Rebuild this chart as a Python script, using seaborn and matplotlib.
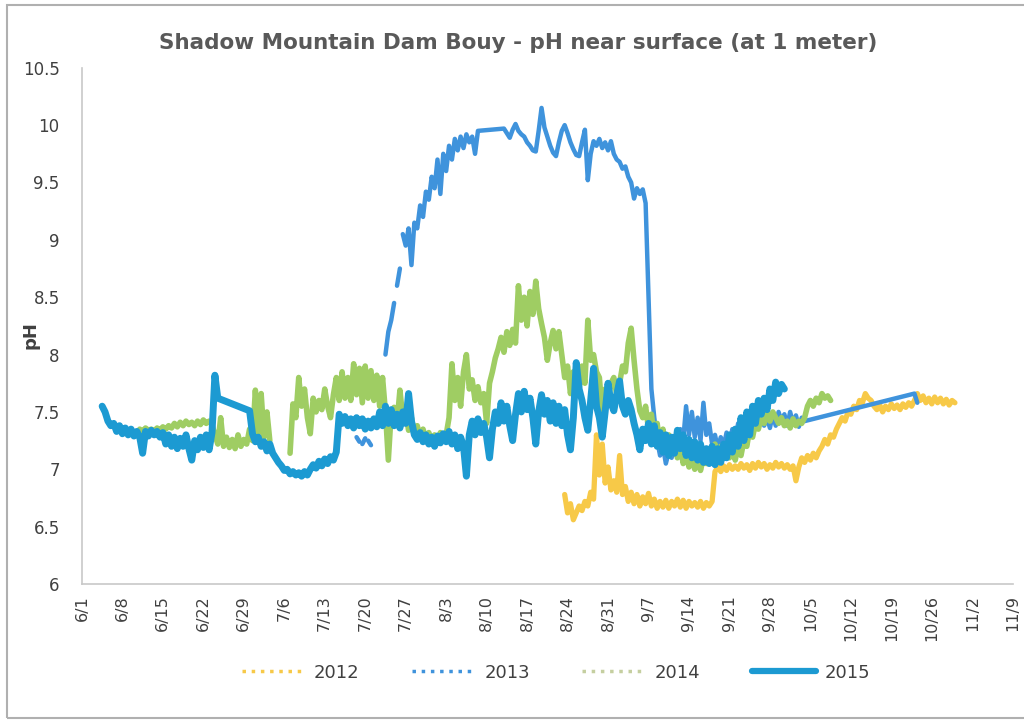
import pandas as pd
import matplotlib
matplotlib.use('Agg')
import matplotlib.pyplot as plt
import seaborn as sns
from matplotlib.lines import Line2D
from matplotlib.patches import Rectangle

# Readings every half day, x = days after 6/1 (all years on the same calendar axis)
STEP = 0.5

tick_days = [0, 7, 14, 21, 28, 35, 42, 49, 56, 63, 70, 77, 84, 91, 98, 105,
             112, 119, 126, 133, 140, 147, 154, 161]
tick_labels = ['6/1', '6/8', '6/15', '6/22', '6/29', '7/6', '7/13', '7/20', '7/27',
               '8/3', '8/10', '8/17', '8/24', '8/31', '9/7', '9/14', '9/21', '9/28',
               '10/5', '10/12', '10/19', '10/26', '11/2', '11/9']

# 2012 - starts 8/24
ph2012 = [6.78, 6.62, 6.70, 6.56, 6.62, 6.68, 6.64, 6.72, 6.68, 6.80,
          6.74, 7.30, 6.95, 7.22, 6.88, 7.02, 6.82, 6.90, 6.80, 7.12,
          6.78, 6.85, 6.72, 6.80, 6.70, 6.78, 6.68, 6.76, 6.70, 6.79,
          6.68, 6.74, 6.66, 6.72, 6.67, 6.73, 6.66, 6.72, 6.68, 6.74,
          6.67, 6.73, 6.66, 6.72, 6.68, 6.71, 6.67, 6.72, 6.66, 6.71,
          6.68, 6.72, 6.98, 7.02, 6.98, 7.03, 6.99, 7.04, 7.00, 7.03,
          7.00, 7.05, 7.01, 7.04, 6.99, 7.05, 7.01, 7.06, 7.02, 7.05,
          7.00, 7.04, 7.01, 7.06, 7.02, 7.05, 7.01, 7.04, 7.00, 7.03,
          6.90, 7.02, 7.10, 7.06, 7.12, 7.08, 7.14, 7.10, 7.16, 7.20,
          7.26, 7.22, 7.30, 7.28, 7.35, 7.40, 7.45, 7.42, 7.50, 7.48,
          7.55, 7.52, 7.60, 7.58, 7.66, 7.62, 7.60, 7.55, 7.52, 7.56,
          7.50, 7.55, 7.52, 7.57, 7.53, 7.56, 7.52, 7.57, 7.54, 7.58,
          7.55, 7.60, 7.66, 7.60, 7.64, 7.58, 7.62, 7.57, 7.63, 7.58,
          7.62, 7.57, 7.61, 7.56, 7.60, 7.58]

# 2013 - a few scattered readings, then the climb to pH 10
ph2013_dot1 = [7.28, 7.24]
ph2013_dot2 = [7.22, 7.27]
ph2013_dot3 = [7.25, 7.21]
ph2013_rise1 = [7.75, 7.80]
ph2013_rise2 = [8.00, 8.20, 8.30, 8.45]
ph2013_rise3 = [8.60, 8.75]
ph2013_a = [9.05, 8.95, 9.10, 8.78, 9.15, 9.10, 9.30, 9.20, 9.42, 9.35,
            9.55, 9.45, 9.70, 9.40, 9.75, 9.60, 9.82, 9.70, 9.88, 9.78,
            9.90, 9.80, 9.92, 9.85, 9.90, 9.75, 9.95]
ph2013_b = [9.97, 9.93, 9.89, 9.96, 10.01, 9.95, 9.92, 9.90, 9.85, 9.82,
            9.78, 9.77, 9.95, 10.15, 9.98, 9.90, 9.82, 9.76, 9.73, 9.85,
            9.95, 10.00, 9.93, 9.85, 9.79, 9.74, 9.73, 9.85, 9.96, 9.52,
            9.75, 9.86, 9.82, 9.88, 9.80, 9.85, 9.78, 9.86, 9.75, 9.70,
            9.68, 9.62, 9.64, 9.55, 9.50, 9.36, 9.45, 9.40, 9.44, 9.32,
            8.50, 7.70, 7.45, 7.25, 7.12, 7.20, 7.05, 7.15, 7.10, 7.25,
            7.20, 7.35, 7.25, 7.55, 7.30, 7.50, 7.28, 7.45, 7.25, 7.58,
            7.30, 7.40, 7.22, 7.30, 7.18, 7.28, 7.20, 7.32, 7.22, 7.35,
            7.25, 7.40, 7.30, 7.45, 7.35, 7.50, 7.38, 7.48, 7.40, 7.50,
            7.38, 7.45, 7.36, 7.48, 7.38, 7.50, 7.42, 7.48, 7.38, 7.50,
            7.40, 7.47, 7.37, 7.45, 7.42]
ph2013_c = [7.66, 7.58]

# 2014
ph2014_a = [7.35, 7.33, 7.36, 7.34, 7.35, 7.33, 7.36, 7.34, 7.37, 7.35,
            7.38, 7.36, 7.40, 7.37, 7.41, 7.38, 7.42, 7.39, 7.41, 7.38,
            7.42, 7.39, 7.43, 7.40, 7.42, 7.39,
            7.30, 7.22, 7.45, 7.20, 7.28, 7.19, 7.26, 7.18, 7.30, 7.20,
            7.26, 7.22, 7.35, 7.25, 7.69, 7.31, 7.66, 7.28, 7.50, 7.25]
ph2014_b = [7.14, 7.57, 7.45, 7.80, 7.55, 7.70, 7.45, 7.31, 7.62, 7.50,
            7.60, 7.52, 7.70, 7.55, 7.45, 7.65, 7.80, 7.60, 7.85, 7.62,
            7.80, 7.60, 7.92, 7.65, 7.88, 7.58, 7.90, 7.62, 7.86, 7.60,
            7.82, 7.55, 7.80, 7.50, 7.08, 7.50, 7.54, 7.40, 7.69, 7.45,
            7.50, 7.34, 7.45, 7.30, 7.38, 7.28, 7.35, 7.26, 7.32, 7.25,
            7.30, 7.24, 7.32, 7.26, 7.30, 7.45, 7.92, 7.60, 7.80, 7.55,
            7.85, 8.00, 7.70, 7.78, 7.60, 7.72, 7.58, 7.66, 7.40, 7.75,
            7.85, 7.97, 8.05, 8.15, 8.02, 8.20, 8.08, 8.22, 8.10, 8.60,
            8.30, 8.50, 8.25, 8.55, 8.35, 8.64, 8.40, 8.27, 8.15, 7.95,
            8.10, 8.21, 8.05, 8.20, 8.00, 7.80, 7.90, 7.66, 7.85, 7.80,
            7.70, 7.90, 7.75, 8.30, 7.95, 8.00, 7.85, 7.80, 7.49, 7.70,
            7.60, 7.75, 7.80, 7.65, 7.75, 7.90, 7.85, 8.10, 8.23, 7.95,
            7.70, 7.51, 7.45, 7.55, 7.35, 7.48, 7.28, 7.40, 7.20, 7.35,
            7.18, 7.30, 7.14, 7.25, 7.10, 7.20, 7.05, 7.15, 7.02, 7.10,
            7.00, 7.08, 6.99, 7.10, 7.05, 7.15, 7.08, 7.22, 7.10, 7.20,
            7.12, 7.22, 7.10, 7.18, 7.08, 7.20, 7.12, 7.25, 7.20, 7.35,
            7.28, 7.40, 7.35, 7.45, 7.40, 7.50, 7.42, 7.50, 7.45, 7.40,
            7.45, 7.38, 7.42, 7.36, 7.44, 7.38, 7.42, 7.40, 7.45, 7.55,
            7.60, 7.55, 7.62, 7.58, 7.66, 7.62, 7.64, 7.60]

# 2015
ph2015_a = [7.55, 7.50, 7.42, 7.38, 7.40, 7.33, 7.38, 7.31, 7.36, 7.30,
            7.35, 7.29, 7.33, 7.28, 7.14, 7.33, 7.29, 7.34, 7.30, 7.33,
            7.28, 7.32, 7.22, 7.30, 7.20, 7.28, 7.18, 7.27, 7.20, 7.30,
            7.18, 7.08, 7.25, 7.17, 7.28, 7.19, 7.30, 7.17, 7.32, 7.82,
            7.62]
ph2015_b = [7.51, 7.31, 7.24, 7.28, 7.20, 7.24, 7.16, 7.22, 7.14, 7.10,
            7.06, 7.03, 6.99, 7.00, 6.96, 6.98, 6.95, 6.97, 6.94, 6.98,
            6.95, 7.00, 7.04, 7.01, 7.07, 7.03, 7.09, 7.05, 7.11, 7.08,
            7.15, 7.48, 7.40, 7.46, 7.38, 7.44, 7.36, 7.45, 7.38, 7.44,
            7.35, 7.42, 7.36, 7.44, 7.37, 7.50, 7.38, 7.55, 7.40, 7.52,
            7.38, 7.48, 7.36, 7.50, 7.40, 7.66, 7.42, 7.30, 7.26, 7.32,
            7.24, 7.30, 7.22, 7.28, 7.20, 7.29, 7.23, 7.31, 7.24, 7.33,
            7.22, 7.30, 7.18, 7.28, 7.20, 6.94, 7.30, 7.42, 7.30, 7.44,
            7.32, 7.40, 7.28, 7.10, 7.35, 7.50, 7.40, 7.58, 7.42, 7.55,
            7.38, 7.25, 7.48, 7.66, 7.50, 7.68, 7.52, 7.62, 7.45, 7.22,
            7.50, 7.65, 7.48, 7.60, 7.42, 7.58, 7.40, 7.55, 7.38, 7.52,
            7.30, 7.17, 7.45, 7.93, 7.70, 7.60, 7.45, 7.34, 7.60, 7.88,
            7.55, 7.45, 7.28, 7.50, 7.75, 7.58, 7.51, 7.65, 7.77, 7.55,
            7.48, 7.60, 7.52, 7.40, 7.30, 7.17, 7.35, 7.25, 7.40, 7.22,
            7.38, 7.20, 7.32, 7.15, 7.30, 7.12, 7.28, 7.14, 7.34, 7.18,
            7.30, 7.12, 7.26, 7.10, 7.24, 7.08, 7.22, 7.06, 7.18, 7.05,
            7.20, 7.04, 7.18, 7.06, 7.22, 7.10, 7.30, 7.15, 7.35, 7.20,
            7.45, 7.25, 7.50, 7.30, 7.55, 7.40, 7.60, 7.48, 7.62, 7.52,
            7.70, 7.60, 7.76, 7.66, 7.74, 7.70]

# (year, line id, first day, values) - pieces sharing a line id are joined
# by a straight line, as Excel does across missing days
segments = [
    ('2012', 0, 83.5, ph2012),
    ('2013', 0, 47.5, ph2013_dot1),
    ('2013', 1, 48.5, ph2013_dot2),
    ('2013', 2, 49.5, ph2013_dot3),
    ('2013', 3, 51.5, ph2013_rise1),
    ('2013', 4, 52.5, ph2013_rise2),
    ('2013', 5, 54.5, ph2013_rise3),
    ('2013', 6, 55.5, ph2013_a),
    ('2013', 6, 73.0, ph2013_b),
    ('2013', 6, 144.0, ph2013_c),
    ('2014', 0, 10.0, ph2014_a),
    ('2014', 1, 36.0, ph2014_b),
    ('2015', 0, 3.5, ph2015_a),
    ('2015', 0, 29.0, ph2015_b),
]

rows = []
for year, line, start, vals in segments:
    for i, v in enumerate(vals):
        rows.append({'year': year, 'line': line, 'day': start + i * STEP, 'pH': v})
df = pd.DataFrame(rows)

colors = {'2012': '#F7C948', '2013': '#3F93DC', '2014': '#9FCD63', '2015': '#1C9AD2'}
widths = {'2012': 3.8, '2013': 3.2, '2014': 4.0, '2015': 5.0}

sns.set_style('white')
plt.rcParams['font.family'] = ['DejaVu Sans']

fig = plt.figure(figsize=(10.24, 7.21), dpi=100)
ax = fig.add_axes([0.080, 0.190, 0.909, 0.716])

for year in ['2012', '2013', '2014', '2015']:
    sub = df[df['year'] == year]
    sns.lineplot(data=sub, x='day', y='pH', units='line', estimator=None, sort=False,
                 color=colors[year], linewidth=widths[year], ax=ax, legend=False)

ax.set_xlim(0, 161)
ax.set_ylim(6, 10.5)
ax.set_xticks(tick_days)
ax.set_xticklabels(tick_labels, rotation=90)
ax.set_yticks([6, 6.5, 7, 7.5, 8, 8.5, 9, 9.5, 10, 10.5])
ax.set_yticklabels(['6', '6.5', '7', '7.5', '8', '8.5', '9', '9.5', '10', '10.5'])
ax.tick_params(axis='x', length=0, pad=8, labelsize=11.5, colors='#404040')
ax.tick_params(axis='y', length=0, pad=16, labelsize=12, colors='#404040')
ax.set_xlabel('')
ax.set_ylabel('')
for s in ['top', 'right']:
    ax.spines[s].set_visible(False)
for s in ['left', 'bottom']:
    ax.spines[s].set_color('#c8c8c8')
    ax.spines[s].set_linewidth(1.2)

fig.text(0.506, 0.940, 'Shadow Mountain Dam Bouy - pH near surface (at 1 meter)',
         ha='center', va='center', fontsize=15.5, fontweight='bold', color='#595959')
fig.text(0.030, 0.535, 'pH', rotation=90, ha='center', va='center',
         fontsize=13, fontweight='bold', color='#404040')

handles = [Line2D([], [], color=colors['2012'], lw=2.5, ls=':'),
           Line2D([], [], color=colors['2013'], lw=2.5, ls=':'),
           Line2D([], [], color='#C5CFA0', lw=2.5, ls=':'),
           Line2D([], [], color=colors['2015'], lw=4.5)]
fig.legend(handles, ['2012', '2013', '2014', '2015'], loc='center',
           bbox_to_anchor=(0.543, 0.067), ncol=4, frameon=False, fontsize=13,
           handlelength=3.5, handletextpad=0.5, columnspacing=2.9,
           labelcolor='#404040')

fig.patches.append(Rectangle((0.007, 0.004), 1.1, 0.989, transform=fig.transFigure,
                             fill=False, edgecolor='#b0b0b0', lw=1.5))

fig.savefig('out.png', dpi=100)
